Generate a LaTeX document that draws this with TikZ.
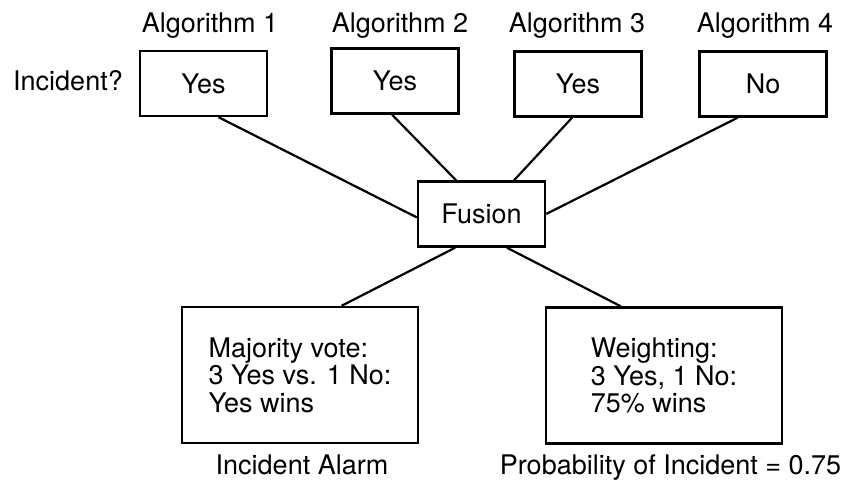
\documentclass[tikz,border=0pt]{standalone}
\usepackage{fontspec}
\setmainfont{TeX Gyre Heros}
\begin{document}
\begin{tikzpicture}[
    x=1pt, y=-1pt,
    box/.style={draw, line width=2.4pt, inner sep=0pt, minimum width=127pt, minimum height=65pt, font=\fontsize{27}{27.5}\selectfont},
    bigbox/.style={box, minimum width=236pt, minimum height=136pt, align=left},
    lbl/.style={anchor=base, inner sep=0pt, font=\fontsize{27}{27.5}\selectfont},
    ln/.style={line width=2.2pt},
]
\useasboundingbox (0,0) rectangle (845,484);

\node[box] (alg1) at (203.5,83.5) {Yes};
\node[box] (alg2) at (395,81) {Yes};
\node[box] (alg3) at (578,84) {Yes};
\node[box] (alg4) at (763,84) {No};

\node[lbl] (t1) at (210,32.5) {Algorithm 1};
\node[lbl] (t2) at (400,32.5) {Algorithm 2};
\node[lbl] (t3) at (577,32.5) {Algorithm 3};
\node[lbl] (t4) at (765,32.5) {Algorithm 4};
\node[lbl] (inc) at (68,91) {Incident?};

\node[box] (fusion) at (481.5,214) {Fusion};

\node[bigbox] (vote) at (300,375) {Majority vote:\\3 Yes vs. 1 No:\\Yes wins};
\node[bigbox] (weight) at (664,375.5) {Weighting:\\3 Yes, 1 No:\\75\% wins};

\node[lbl] (alarm) at (302,474) {Incident Alarm};
\node[lbl] (prob) at (670.5,474) {Probability of Incident = 0.75};

% algorithms into fusion
\draw[ln] (alg1.294) -- (fusion.183);
\draw[ln] (alg2.265) -- (fusion.127);
\draw[ln] (alg3.260) -- (fusion.46);
\draw[ln] (alg4.233) -- (fusion.east);

% fusion results
\draw[ln] (fusion.232) -- (vote.59.5);
\draw[ln] (fusion.307) -- (weight.122);

\end{tikzpicture}
\end{document}
